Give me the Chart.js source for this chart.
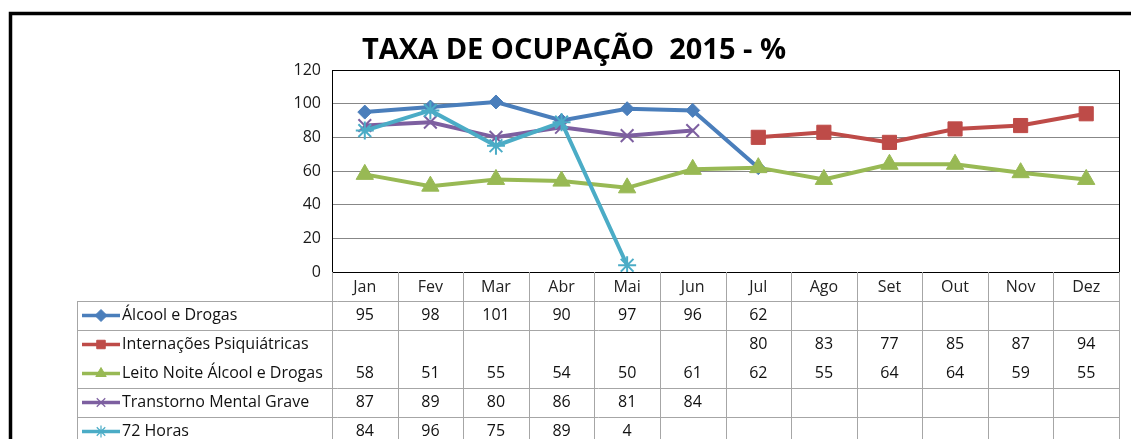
<!DOCTYPE html>
<html>
<head>
<meta charset="utf-8">
<script src="https://cdn.jsdelivr.net/npm/chart.js@4"></script>
<style>
html, body { margin: 0; padding: 0; background: #fff; }
#wrap { width: 1131px; height: 439px; position: relative; }
</style>
</head>
<body>
<div id="wrap"><canvas id="taxaChart"></canvas></div>
<script>
const meses = ['Jan', 'Fev', 'Mar', 'Abr', 'Mai', 'Jun', 'Jul', 'Ago', 'Set', 'Out', 'Nov', 'Dez'];
const alcoolDrogas = [95, 98, 101, 90, 97, 96, 62, null, null, null, null, null];
const internacoes = [null, null, null, null, null, null, 80, 83, 77, 85, 87, 94];
const leitoNoite = [58, 51, 55, 54, 50, 61, 62, 55, 64, 64, 59, 55];
const transtorno = [87, 89, 80, 86, 81, 84, null, null, null, null, null, null];
const horas72 = [84, 96, 75, 89, 4, null, null, null, null, null, null, null];
const yTicks = [0, 20, 40, 60, 80, 100, 120];
const titulo = 'TAXA DE OCUPAÇÃO  2015 - %';

const series = [
    { label: 'Álcool e Drogas', data: alcoolDrogas, color: '#4A7EBB', style: 'rectRot', r: 7 },
    { label: 'Internações Psiquiátricas', data: internacoes, color: '#BE4B48', style: 'rect', r: 10 },
    { label: 'Leito Noite Álcool e Drogas', data: leitoNoite, color: '#98B954', style: 'triangle', r: 10 },
    { label: 'Transtorno Mental Grave', data: transtorno, color: '#7D5FA0', style: 'crossRot', r: 9 },
    { label: '72 Horas', data: horas72, color: '#4BACC6', style: 'star', r: 9 }
];

const FONT = '"Open Sans", sans-serif';

// desenha moldura, título e a tabela de dados
const tabelaPlugin = {
    id: 'tabela',
    beforeDatasetsDraw(chart) {
        const { ctx, chartArea: a } = chart;
        ctx.save();
        ctx.strokeStyle = '#000';
        ctx.lineWidth = 1;
        ctx.strokeRect(a.left + 0.5, a.top + 0.5, a.right - a.left, a.bottom - a.top);
        ctx.restore();
    },
    afterDraw(chart) {
        const { ctx, chartArea: a } = chart;
        const x = chart.scales.x;
        const colW = (a.right - a.left) / meses.length;
        const rowTop = 301, rowH = 29;
        const tableLeft = 77;
        const bottom = 445;

        ctx.save();
        // moldura externa
        ctx.strokeStyle = '#000';
        ctx.lineWidth = 3.5;
        ctx.strokeRect(10.5, 13.5, 1200, 500);

        // título
        ctx.fillStyle = '#000';
        ctx.font = 'bold 29px ' + FONT;
        ctx.textAlign = 'center';
        ctx.textBaseline = 'alphabetic';
        ctx.fillText(titulo, 574, 59);

        // linhas da tabela (sem linha entre a 2ª e a 3ª série, como no original)
        ctx.strokeStyle = '#A6A6A6';
        ctx.lineWidth = 1;
        ctx.beginPath();
        for (let i = 0; i <= meses.length; i++) {
            const xx = Math.round(a.left + i * colW) + 0.5;
            ctx.moveTo(xx, a.bottom);
            ctx.lineTo(xx, bottom);
        }
        ctx.moveTo(tableLeft + 0.5, rowTop);
        ctx.lineTo(tableLeft + 0.5, bottom);
        [0, 1, 3, 4].forEach(k => {
            const yy = rowTop + k * rowH + 0.5;
            ctx.moveTo(tableLeft, yy);
            ctx.lineTo(a.right + 1, yy);
        });
        ctx.stroke();

        // cabeçalho com os meses
        ctx.fillStyle = '#222';
        ctx.font = '16px ' + FONT;
        ctx.textBaseline = 'middle';
        ctx.textAlign = 'center';
        meses.forEach((m, i) => ctx.fillText(m, x.getPixelForValue(i), 287));

        // linhas de cada série
        series.forEach((s, k) => {
            const cy = rowTop + k * rowH + rowH / 2;
            ctx.strokeStyle = s.color;
            ctx.fillStyle = s.color;
            ctx.lineWidth = 3.5;
            ctx.beginPath();
            ctx.moveTo(82, cy);
            ctx.lineTo(120, cy);
            ctx.stroke();
            const fino = s.style === 'crossRot' || s.style === 'star';
            ctx.lineWidth = fino ? 1.2 : 1;
            Chart.helpers.drawPoint(ctx, {
                pointStyle: s.style,
                radius: 6,
                rotation: 0,
                borderWidth: ctx.lineWidth
            }, 101, cy);
            ctx.fillStyle = '#111';
            ctx.textAlign = 'left';
            ctx.fillText(s.label, 122, cy);
            ctx.textAlign = 'center';
            s.data.forEach((v, i) => {
                if (v !== null) ctx.fillText(String(v), x.getPixelForValue(i), cy);
            });
        });
        ctx.restore();
    }
};

new Chart(document.getElementById('taxaChart').getContext('2d'), {
    type: 'line',
    data: {
        labels: meses,
        datasets: series.map((s, i) => ({
            label: s.label,
            data: s.data,
            borderColor: s.color,
            backgroundColor: s.color,
            borderWidth: 4,
            pointStyle: s.style,
            pointRadius: s.r,
            pointBorderWidth: (s.style === 'crossRot' || s.style === 'star') ? 2 : 1,
            pointBorderColor: s.color,
            pointBackgroundColor: s.color,
            tension: 0,
            fill: false,
            order: series.length - i
        }))
    },
    options: {
        responsive: true,
        maintainAspectRatio: false,
        animation: false,
        layout: { padding: { left: 0, right: 12, top: 70, bottom: 167 } },
        plugins: {
            legend: { display: false },
            title: { display: false },
            tooltip: { enabled: false }
        },
        scales: {
            x: {
                display: false,
                offset: true
            },
            y: {
                min: 0,
                max: 120,
                afterFit(scale) { scale.width = 332; },
                afterBuildTicks(scale) { scale.ticks = yTicks.map(v => ({ value: v })); },
                grid: { color: '#878787', lineWidth: 1, drawTicks: false },
                border: { display: true, color: '#000' },
                ticks: {
                    padding: 11,
                    color: '#1a1a1a',
                    font: { family: FONT, size: 16 }
                }
            }
        }
    },
    plugins: [tabelaPlugin]
});
</script>
</body>
</html>
